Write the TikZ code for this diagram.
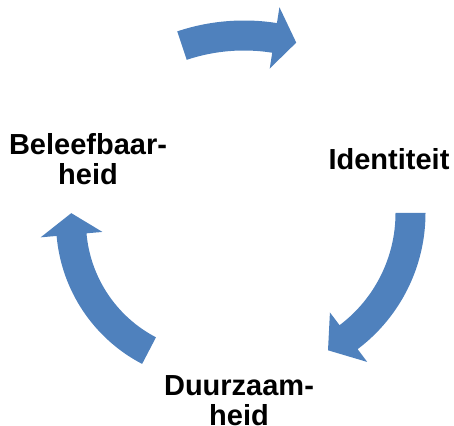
\documentclass[tikz,border=0pt]{standalone}
\usepackage{fontspec}
\setmainfont{Liberation Sans}
\usetikzlibrary{calc}
\definecolor{arrowblue}{RGB}{79,129,189}
\tikzset{lbl/.style={font=\fontsize{29}{30}\selectfont\bfseries, inner sep=0pt, align=center, text=black, anchor=base}}
% #1,#2 centre; #3 middle radius; #4 tail angle; #5 head base angle; #6 tip angle
\newcommand{\cycarrow}[6]{%
  \pgfmathsetmacro{\cyRo}{#3+15}%
  \pgfmathsetmacro{\cyRi}{#3-15}%
  \pgfmathsetmacro{\cyHo}{#3+31}%
  \pgfmathsetmacro{\cyHi}{#3-31}%
  \fill[arrowblue] ($(#1,#2)+(#4:\cyRo)$) arc[start angle=#4, end angle=#5, radius=\cyRo]
    -- ($(#1,#2)+(#5:\cyHo)$) -- ($(#1,#2)+(#6:#3)$) -- ($(#1,#2)+(#5:\cyHi)$)
    -- ($(#1,#2)+(#5:\cyRi)$) arc[start angle=#5, end angle=#4, radius=\cyRi] -- cycle;}
\begin{document}
\begin{tikzpicture}[x=1pt, y=1pt]
\useasboundingbox (0,0) rectangle (454,425);
\cycarrow{244}{194}{195.5}{108.5}{81}{74.5}
\cycarrow{255}{212}{155.5}{0}{-53}{-62}
\cycarrow{216}{203}{145}{242.5}{185}{176.5}
\node[lbl] (ident) at (389,255) {Identiteit};
\node[lbl] (belev) at (88,240) {Beleefbaar-\\heid};
\node[lbl] (duurz) at (239,0) {Duurzaam-\\heid};
\end{tikzpicture}
\end{document}
